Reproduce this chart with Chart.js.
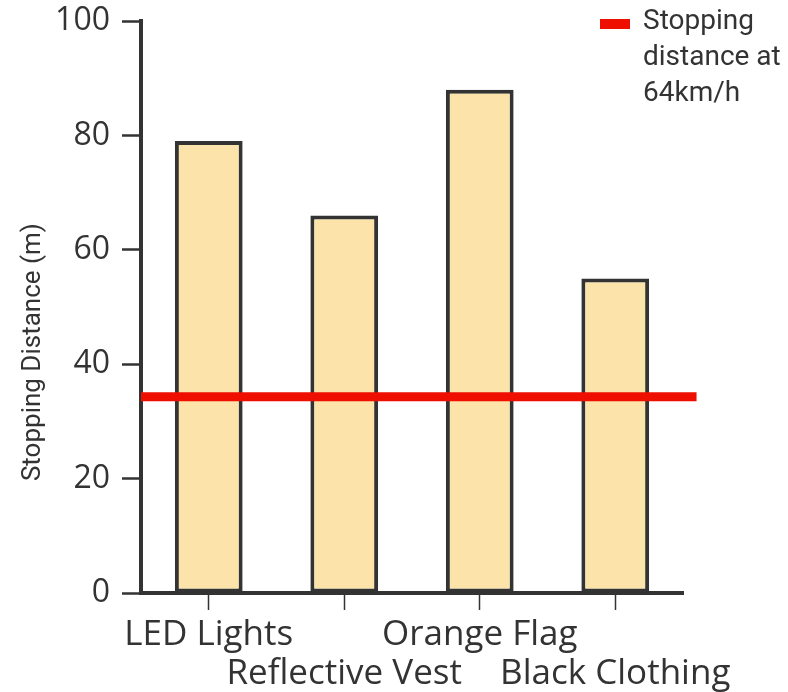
<!DOCTYPE html>
<html>
<head>
<meta charset="utf-8">
<script src="https://cdn.jsdelivr.net/npm/chart.js@4/dist/chart.umd.min.js"></script>
<style>
    html, body { margin: 0; padding: 0; background: #fff; }
    #wrap { width: 788px; height: 692px; }
</style>
</head>
<body>
<div id="wrap"><canvas id="chart"></canvas></div>
<script>
const categories = ['LED Lights', 'Reflective Vest', 'Orange Flag', 'Black Clothing']
const stoppingDistance = [79, 66, 88, 55]
const referenceLine = [34.3, 34.3]
const referenceLineX = [-0.5, 3.6]
const referenceLabel = ['Stopping', 'distance at', '64km/h']
const yTicks = [0, 20, 40, 60, 80, 100]

const ink = '#333333'

// labels go on two rows so they don't collide
const staggered = categories.map((c, i) => i % 2 ? ['', c] : [c])

const legendPlugin = {
    id: 'sideLegend',
    afterDraw(chart) {
        const ctx = chart.ctx
        const ds = chart.data.datasets[1]
        ctx.save()
        ctx.fillStyle = ds.borderColor
        ctx.fillRect(600, 19, 30, 10)
        ctx.fillStyle = ink
        ctx.font = '28px Roboto'
        ctx.textBaseline = 'middle'
        ctx.textAlign = 'left'
        ds.label.forEach((line, i) => {
            ctx.fillText(line, 643, 22 + i * 36)
        })
        ctx.restore()
    }
}

new Chart(document.getElementById('chart'), {
    type: 'bar',
    data: {
        labels: staggered,
        datasets: [{
            type: 'bar',
            data: stoppingDistance,
            backgroundColor: '#fce3a9',
            borderColor: ink,
            borderWidth: 4,
            borderSkipped: false,
            grouped: false,
            barPercentage: 0.5,
            categoryPercentage: 1,
            order: 2
        }, {
            type: 'line',
            label: referenceLabel,
            data: referenceLineX.map((x, i) => ({x: x, y: referenceLine[i]})),
            xAxisID: 'x2',
            borderColor: '#ee0f00',
            borderWidth: 9,
            borderCapStyle: 'butt',
            pointRadius: 0,
            clip: false,
            order: 1
        }]
    },
    options: {
        responsive: true,
        maintainAspectRatio: false,
        animation: false,
        layout: {
            padding: {left: 18, top: 21, right: 105, bottom: 0}
        },
        plugins: {
            legend: {display: false},
            tooltip: {enabled: false}
        },
        scales: {
            x: {
                type: 'category',
                offset: true,
                afterFit: axis => { axis.height = 99 },
                border: {color: ink, width: 4},
                grid: {
                    offset: false,
                    drawOnChartArea: false,
                    drawTicks: true,
                    tickLength: 17,
                    tickWidth: 1.5,
                    color: ink
                },
                ticks: {
                    autoSkip: false,
                    maxRotation: 0,
                    minRotation: 0,
                    padding: 5,
                    color: ink,
                    font: {family: 'Open Sans', size: 35, lineHeight: 1.12}
                }
            },
            x2: {
                type: 'linear',
                display: false,
                offset: false,
                min: -0.5,
                max: 3.5
            },
            y: {
                min: 0,
                max: 100,
                afterFit: axis => {
                    axis.width = 123
                    axis.paddingTop = 0
                    axis.paddingBottom = 0
                },
                afterBuildTicks: axis => { axis.ticks = yTicks.map(v => ({value: v})) },
                border: {color: ink, width: 4},
                grid: {
                    drawOnChartArea: false,
                    drawTicks: true,
                    tickLength: 19,
                    tickWidth: 2.5,
                    color: ink
                },
                ticks: {
                    padding: 12,
                    color: ink,
                    font: {family: 'Open Sans', size: 32}
                },
                title: {
                    display: true,
                    text: 'Stopping Distance (m)' + ' '.repeat(14),
                    color: ink,
                    font: {family: 'Roboto', size: 26},
                    padding: {top: 0, bottom: 0}
                }
            }
        }
    },
    plugins: [legendPlugin]
})
</script>
</body>
</html>
